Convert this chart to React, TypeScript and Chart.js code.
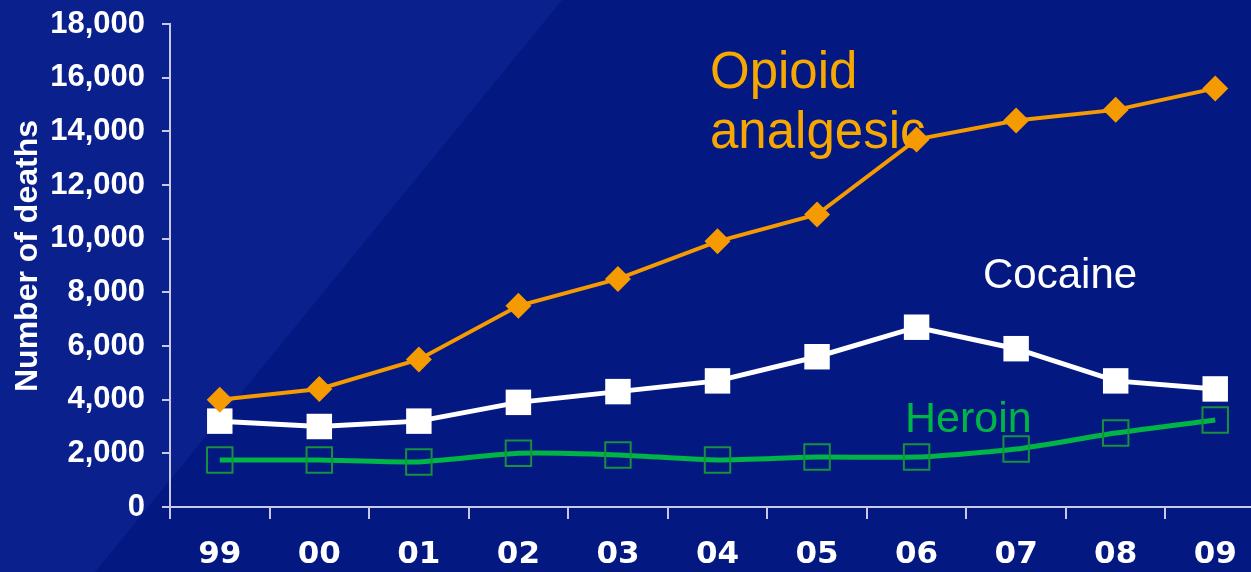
import React, { useEffect, useRef } from "react";
import { Chart, registerables } from "chart.js";

Chart.register(...registerables);

// ---- data ----
const years = ["99", "00", "01", "02", "03", "04", "05", "06", "07", "08", "09"];
const opioid = [4000, 4400, 5500, 7500, 8500, 9900, 10900, 13700, 14400, 14800, 15600];
const cocaine = [3200, 3000, 3200, 3900, 4300, 4700, 5600, 6700, 5900, 4700, 4400];
const heroin = [1750, 1750, 1680, 2000, 1940, 1750, 1860, 1860, 2160, 2760, 3240];
const yMin = 0;
const yMax = 18000;
const yStep = 2000;
const yTitle = "Number of deaths";
const opioidLabel = ["Opioid", "analgesic"];
const cocaineLabel = "Cocaine";
const heroinLabel = "Heroin";

const W = 1285;
const H = 572;

const bgPlugin = {
  id: "bg",
  beforeDraw(chart: any) {
    const ctx = chart.ctx;
    ctx.save();
    ctx.fillStyle = "#041882";
    ctx.fillRect(0, 0, chart.width, chart.height);
    ctx.beginPath();
    ctx.moveTo(0, 0);
    ctx.lineTo(562, 0);
    ctx.lineTo(95, chart.height);
    ctx.lineTo(0, chart.height);
    ctx.closePath();
    ctx.fillStyle = "#0a208d";
    ctx.fill();
    ctx.restore();
  },
};

const textPlugin = {
  id: "seriesText",
  beforeDatasetsDraw(chart: any) {
    const ctx = chart.ctx;
    ctx.save();
    ctx.save();
    ctx.translate(28, 256);
    ctx.rotate(-Math.PI / 2);
    ctx.textAlign = "center";
    ctx.textBaseline = "middle";
    ctx.font = "bold 32px 'Liberation Sans', Arial, sans-serif";
    ctx.fillStyle = "#ffffff";
    ctx.fillText(yTitle, 0, 0);
    ctx.restore();

    ctx.textAlign = "left";
    ctx.textBaseline = "alphabetic";
    ctx.font = "51px 'Liberation Sans', Arial, sans-serif";
    ctx.fillStyle = "#f7a800";
    ctx.fillText(opioidLabel[0], 710, 88);
    ctx.fillText(opioidLabel[1], 710, 148);
    ctx.font = "42px 'Liberation Sans', Arial, sans-serif";
    ctx.fillStyle = "#ffffff";
    ctx.fillText(cocaineLabel, 983, 288);
    ctx.font = "43px 'Liberation Sans', Arial, sans-serif";
    ctx.fillStyle = "#00b545";
    ctx.fillText(heroinLabel, 905, 432);
    ctx.restore();
  },
};

export default function App() {
  const ref = useRef<HTMLCanvasElement | null>(null);

  useEffect(() => {
    if (!ref.current) return;
    const axisColor = "#c9c9e6";
    const chart = new Chart(ref.current, {
      type: "line",
      data: {
        labels: years,
        datasets: [
          {
            label: "Heroin",
            data: heroin,
            borderColor: "#00b545",
            borderWidth: 5,
            tension: 0.2,
            pointStyle: "rect",
            pointRadius: 18,
            pointBorderWidth: 2,
            pointBorderColor: "#17903f",
            pointBackgroundColor: "rgba(0,0,0,0)",
            order: 3,
          },
          {
            label: "Cocaine",
            data: cocaine,
            borderColor: "#ffffff",
            borderWidth: 5,
            tension: 0,
            pointStyle: "rect",
            pointRadius: 18,
            pointBorderWidth: 0,
            pointBackgroundColor: "#ffffff",
            pointBorderColor: "#ffffff",
            order: 2,
          },
          {
            label: "Opioid analgesic",
            data: opioid,
            borderColor: "#f59a00",
            borderWidth: 4,
            tension: 0,
            pointStyle: "rectRot",
            pointRadius: 13,
            pointBorderWidth: 0,
            pointBackgroundColor: "#f59a00",
            pointBorderColor: "#f59a00",
            order: 1,
          },
        ],
      },
      options: {
        responsive: false,
        animation: false,
        devicePixelRatio: 1,
        layout: { padding: { top: 24, right: 0, left: 0, bottom: 0 } },
        plugins: {
          legend: { display: false },
          tooltip: { enabled: false },
        },
        scales: {
          x: {
            offset: true,
            grid: {
              display: true,
              offset: true,
              drawOnChartArea: false,
              drawTicks: true,
              tickLength: 12,
              color: axisColor,
              lineWidth: 2,
            },
            border: { display: true, color: axisColor, width: 2 },
            ticks: {
              color: "#ffffff",
              font: { family: "'DejaVu Sans', Verdana, sans-serif", size: 31, weight: "bold" },
              padding: 17,
              maxRotation: 0,
              autoSkip: false,
            },
            afterFit(scale: any) {
              scale.height = 65;
            },
          },
          y: {
            min: yMin,
            max: yMax,
            grid: {
              display: true,
              drawOnChartArea: false,
              drawTicks: true,
              tickLength: 8,
              color: axisColor,
              lineWidth: 2,
            },
            border: { display: true, color: axisColor, width: 2 },
            ticks: {
              stepSize: yStep,
              color: "#ffffff",
              font: { family: "'Liberation Sans', Arial, sans-serif", size: 31, weight: "bold" },
              padding: 17,
              callback: (v: any) => Number(v).toLocaleString("en-US"),
            },
            title: { display: false, text: yTitle },
            afterFit(scale: any) {
              scale.width = 170;
              scale.paddingTop = 0;
              scale.paddingBottom = 0;
            },
          },
        },
      },
      plugins: [bgPlugin, textPlugin],
    });
    return () => chart.destroy();
  }, []);

  return (
    <div
      style={{
        position: "fixed",
        left: 0,
        top: 0,
        width: 1251,
        height: 572,
        overflow: "hidden",
        background: "#041882",
      }}
    >
      <canvas ref={ref} width={W} height={H} style={{ width: W, height: H, display: "block" }} />
    </div>
  );
}
